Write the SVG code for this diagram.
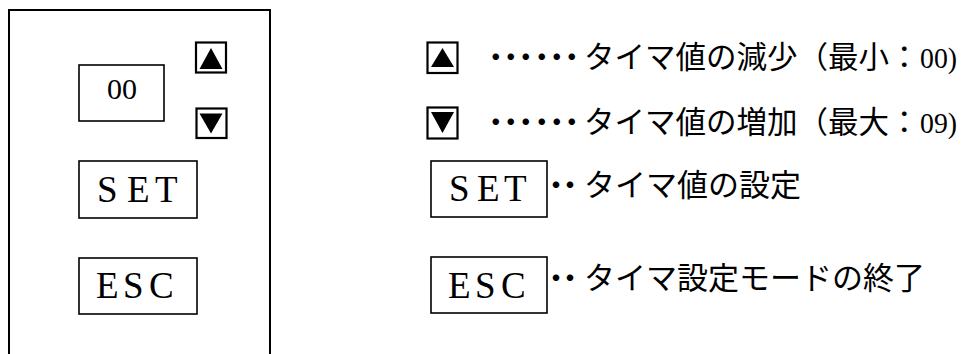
<svg xmlns="http://www.w3.org/2000/svg" width="962" height="354" viewBox="0 0 962 354">
  <style>
    .frame { fill: none; stroke: #000; stroke-width: 2; }
    .box { fill: #fff; stroke: #000; stroke-width: 1.6; }
    .key { fill: #fff; stroke: #000; stroke-width: 2.2; }
    .tri { fill: #000; }
    .lat { font-family: "Liberation Serif", "Times New Roman", serif; fill: #000; }
    .jp { font-family: "Noto Sans CJK JP", "Noto Sans", sans-serif; font-size: 31px; fill: #000; }
    .jp.row { font-size: 30.5px; }
  </style>

  <rect width="962" height="354" fill="#fff"/>

  <!-- operation panel outline (open at the bottom) -->
  <g id="panel">
    <path class="frame" d="M9,356 V10 H270 V356"/>
  </g>

  <!-- two-digit display -->
  <g id="display">
    <rect class="box" x="79" y="65" width="85" height="56"/>
    <text class="lat" x="107" y="99" font-size="30" textLength="30" lengthAdjust="spacingAndGlyphs">00</text>
  </g>

  <!-- up / down keys on the panel -->
  <g id="key-up">
    <rect class="key" x="196" y="42.5" width="30" height="30"/>
    <polygon class="tri" points="211,48 199.5,69 222.5,69"/>
  </g>
  <g id="key-down">
    <rect class="key" x="196.5" y="108.5" width="30" height="29.5"/>
    <polygon class="tri" points="199.5,113.5 222.5,113.5 211,133.5"/>
  </g>

  <!-- SET and ESC keys on the panel -->
  <g id="key-set">
    <rect class="box" x="79" y="161" width="118" height="57"/>
    <text class="lat" x="97 127 155" y="202" font-size="37">SET</text>
  </g>
  <g id="key-esc">
    <rect class="box" x="79" y="258" width="118" height="56"/>
    <text class="lat" x="96 123 149" y="298" font-size="37">ESC</text>
  </g>

  <!-- legend: up key -->
  <g id="legend-up">
    <rect class="key" x="427.5" y="42.5" width="30" height="30.5"/>
    <polygon class="tri" points="442.5,48 431,67 454,67"/>
    <text class="jp row" y="68"><tspan x="480.5 495.5 510.5 526.5 541.5 556.5">・・・・・・</tspan><tspan x="584">タイマ値の減少（最小：</tspan><tspan class="lat" x="920" font-size="30" textLength="37" lengthAdjust="spacingAndGlyphs">00)</tspan></text>
  </g>

  <!-- legend: down key -->
  <g id="legend-down">
    <rect class="key" x="427.5" y="107.5" width="30" height="31"/>
    <polygon class="tri" points="431,112 454,112 442.5,133"/>
    <text class="jp row" y="133"><tspan x="480.5 495.5 510.5 526.5 541.5 556.5">・・・・・・</tspan><tspan x="584">タイマ値の増加（最大：</tspan><tspan class="lat" x="920" font-size="30" textLength="37" lengthAdjust="spacingAndGlyphs">09)</tspan></text>
  </g>

  <!-- legend: SET key -->
  <g id="legend-set">
    <rect class="box" x="431" y="161" width="116" height="56"/>
    <text class="lat" x="449 477 504" y="201" font-size="37">SET</text>
    <text class="jp" y="196"><tspan x="540.5 554.5">・・</tspan><tspan x="584">タイマ値の設定</tspan></text>
  </g>

  <!-- legend: ESC key -->
  <g id="legend-esc">
    <rect class="box" x="431" y="257" width="116" height="56"/>
    <text class="lat" x="448 475 501" y="298" font-size="37">ESC</text>
    <text class="jp" y="289"><tspan x="540.5 554.5">・・</tspan><tspan x="584">タイマ設定モードの終了</tspan></text>
  </g>
</svg>
